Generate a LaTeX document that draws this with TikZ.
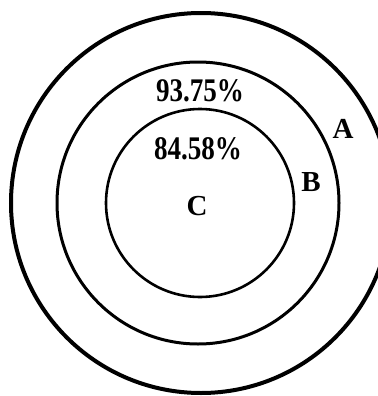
\documentclass[tikz,border=0pt]{standalone}
\usepackage{fontspec}
\setmainfont{Liberation Serif}
\newfontfamily\numfont{Liberation Serif}[FakeStretch=0.82]

\begin{document}
\begin{tikzpicture}[x=0.5pt,y=-0.5pt]

\clip (0,0) rectangle (378,396);
\useasboundingbox (0,0) rectangle (378,396);

% A
\draw[line width=2pt]
(201,203)
circle
(190);

% B
\draw[line width=1.5pt]
(198,203)
circle
(141);

% C
\draw[line width=1.3pt]
(200,203)
circle
(94);

\node (pa) at (200,91)
{\numfont\fontsize{16.5}{16.5}\selectfont\bfseries 93.75\%};

\node (pb) at (198,149)
{\numfont\fontsize{16.5}{16.5}\selectfont\bfseries 84.58\%};

\node (lc) at (197,206)
{\fontsize{14.5}{14.5}\selectfont\bfseries C};

\node (lb) at (311,182)
{\fontsize{14.5}{14.5}\selectfont\bfseries B};

\node (la) at (343,129)
{\fontsize{14.5}{14.5}\selectfont\bfseries A};

\end{tikzpicture}
\end{document}
